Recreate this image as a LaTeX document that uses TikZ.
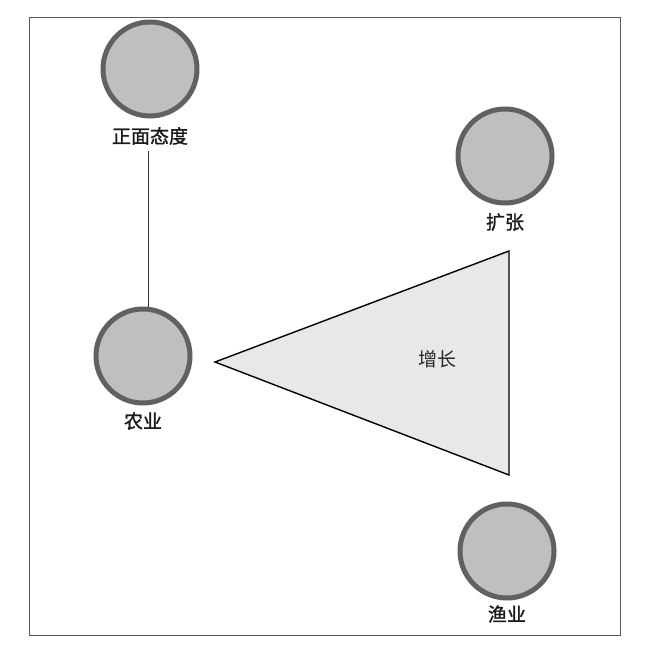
\documentclass[tikz,border=0pt]{standalone}
\usepackage{fontspec}
\newfontfamily\cjk{Noto Sans CJK SC}
\newfontfamily\cjkb[FakeBold=1.2]{Noto Sans CJK SC}
\begin{document}
\begin{tikzpicture}[x=1pt,y=-1pt,
  ball/.style={circle,draw=black!62,line width=5pt,fill=black!25,minimum size=94pt,inner sep=0pt},
  lbl/.style={font=\cjkb\fontsize{19}{19}\selectfont,text=black!90,inner sep=1pt},
  tlbl/.style={font=\cjk\fontsize{19}{19}\selectfont,text=black!85,inner sep=1pt},
  frame/.style={draw=black!65,line width=1pt}]
\useasboundingbox (0,0) rectangle (650,655);
\draw[frame] (29,18) rectangle (620,635);
\node[ball] (c1) at (150,69) {};
\node[lbl] (l1) at (150,136) {正面态度};
\node[ball] (c2) at (505,156) {};
\node[lbl] (l2) at (505,222) {扩张};
\node[ball] (c3) at (143,356) {};
\node[lbl] (l3) at (143,421) {农业};
\node[ball] (c4) at (507,551) {};
\node[lbl] (l4) at (507,614) {渔业};
\coordinate (ta) at (215,362);
\coordinate (tb) at (509,251);
\coordinate (tc) at (509,475);
\draw[fill=black!9,line width=1.4pt,line join=miter] (ta) -- (tb) -- (tc) -- cycle;
\node[tlbl] (g) at (437,359) {增长};
\draw[line width=0.9pt,black!80] (l1.south) ++(-2,5) coordinate (s1) -- (c3.north -| s1);
\end{tikzpicture}
\end{document}
